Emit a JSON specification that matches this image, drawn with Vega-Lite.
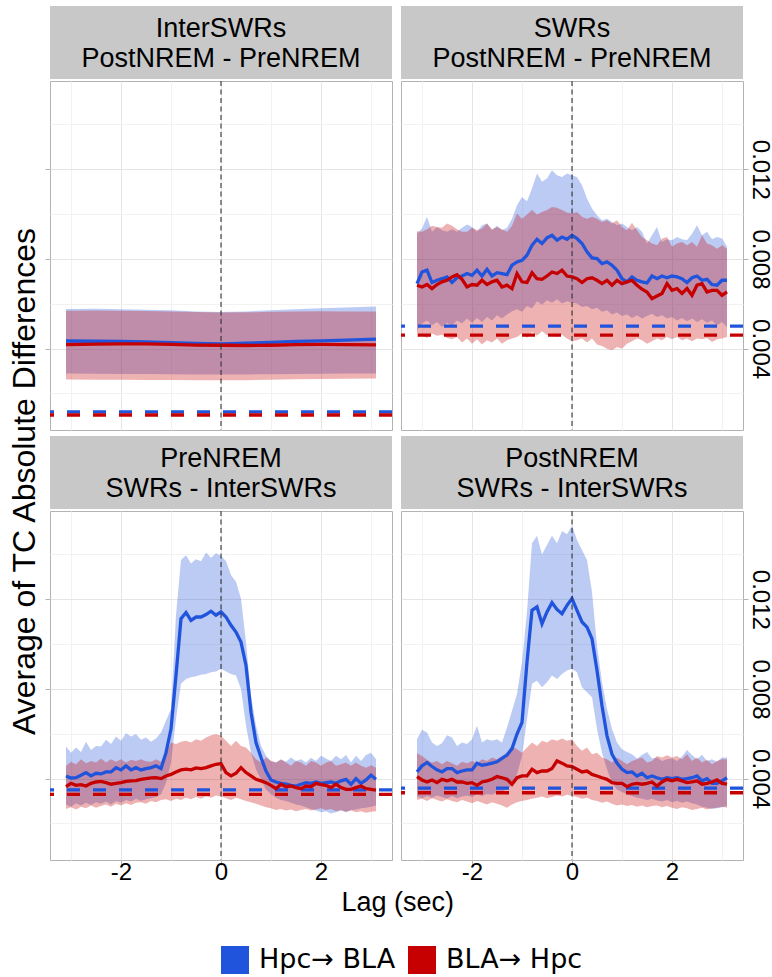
{
"$schema": "https://vega.github.io/schema/vega-lite/v6.json",
"padding": {"left": 8, "top": 6, "right": 1, "bottom": 1},
"config": {
 "font": "Liberation Sans",
 "view": {"stroke": "#b3b3b3", "strokeWidth": 1},
 "axis": {"labelColor": "black", "labelFontSize": 24, "tickColor": "#b3b3b3", "tickSize": 5, "gridWidth": 1, "domain": false, "labelFont": "Liberation Sans"},
 "title": {"fontWeight": "normal", "color": "black", "font": "Liberation Sans"}
},
"title": {"text": "Average of TC Absolute Differences", "orient": "left", "anchor": "middle", "fontSize": 32, "offset": 2, "dx": 8.5},
"datasets": {
 "thr": [
  {"p":"TL","d":"Hpc→ BLA","v":0.00118},{"p":"TL","d":"BLA→ Hpc","v":0.00104},
  {"p":"TR","d":"Hpc→ BLA","v":0.005},{"p":"TR","d":"BLA→ Hpc","v":0.0046},
  {"p":"BL","d":"Hpc→ BLA","v":0.0035},{"p":"BL","d":"BLA→ Hpc","v":0.0033},
  {"p":"BR","d":"Hpc→ BLA","v":0.00358},{"p":"BR","d":"BLA→ Hpc","v":0.00337}
 ],
 "TL_H": [
  {"t":-3.1,"m":0.00434,"lo":0.00289,"hi":0.00577},{"t":-2.5,"m":0.00433,"lo":0.00288,"hi":0.00578},{"t":-2,"m":0.00432,"lo":0.00287,"hi":0.00576},{"t":-1.5,"m":0.0043,"lo":0.00287,"hi":0.00574},{"t":-1,"m":0.00427,"lo":0.00286,"hi":0.00571},{"t":-0.5,"m":0.00423,"lo":0.00285,"hi":0.00566},{"t":0,"m":0.00421,"lo":0.00285,"hi":0.00563},{"t":0.5,"m":0.00424,"lo":0.00285,"hi":0.00566},{"t":1,"m":0.00428,"lo":0.00286,"hi":0.00571},{"t":1.5,"m":0.00432,"lo":0.00287,"hi":0.00576},{"t":2,"m":0.00435,"lo":0.00288,"hi":0.0058},{"t":2.5,"m":0.00438,"lo":0.00289,"hi":0.00584},{"t":3.1,"m":0.00442,"lo":0.00289,"hi":0.00588}
 ],
 "TL_B": [
  {"t":-3.1,"m":0.00418,"lo":0.00262,"hi":0.00569},{"t":-2.5,"m":0.0042,"lo":0.00261,"hi":0.0057},{"t":-2,"m":0.00421,"lo":0.00261,"hi":0.00569},{"t":-1.5,"m":0.00421,"lo":0.0026,"hi":0.00568},{"t":-1,"m":0.00419,"lo":0.0026,"hi":0.00566},{"t":-0.5,"m":0.00416,"lo":0.00259,"hi":0.00563},{"t":0,"m":0.00415,"lo":0.00259,"hi":0.00561},{"t":0.5,"m":0.00414,"lo":0.00259,"hi":0.00562},{"t":1,"m":0.00415,"lo":0.00261,"hi":0.00564},{"t":1.5,"m":0.00418,"lo":0.00263,"hi":0.00566},{"t":2,"m":0.00419,"lo":0.00264,"hi":0.00567},{"t":2.5,"m":0.00418,"lo":0.00266,"hi":0.00566},{"t":3.1,"m":0.00417,"lo":0.00267,"hi":0.00566}
 ],
 "TR_H": [
  {"t":-3.1,"m":0.0069,"lo":0.00482,"hi":0.00913},{"t":-3,"m":0.00742,"lo":0.00512,"hi":0.00936},{"t":-2.9,"m":0.0075,"lo":0.00526,"hi":0.00988},{"t":-2.8,"m":0.00695,"lo":0.00504,"hi":0.00921},{"t":-2.7,"m":0.00705,"lo":0.00519,"hi":0.00943},{"t":-2.6,"m":0.00712,"lo":0.00497,"hi":0.00928},{"t":-2.5,"m":0.0072,"lo":0.00516,"hi":0.00921},{"t":-2.4,"m":0.00695,"lo":0.00504,"hi":0.00933},{"t":-2.3,"m":0.00716,"lo":0.00526,"hi":0.00921},{"t":-2.2,"m":0.00724,"lo":0.00512,"hi":0.00939},{"t":-2.1,"m":0.00735,"lo":0.00534,"hi":0.00954},{"t":-2,"m":0.00727,"lo":0.00516,"hi":0.00943},{"t":-1.9,"m":0.0075,"lo":0.00537,"hi":0.00921},{"t":-1.8,"m":0.00724,"lo":0.00519,"hi":0.00951},{"t":-1.7,"m":0.00754,"lo":0.00541,"hi":0.00958},{"t":-1.6,"m":0.00724,"lo":0.00526,"hi":0.00928},{"t":-1.5,"m":0.00739,"lo":0.00549,"hi":0.00948},{"t":-1.4,"m":0.00735,"lo":0.00534,"hi":0.00928},{"t":-1.3,"m":0.0073,"lo":0.00552,"hi":0.00939},{"t":-1.2,"m":0.00772,"lo":0.00567,"hi":0.0098},{"t":-1.1,"m":0.00787,"lo":0.00576,"hi":0.0104},{"t":-1,"m":0.00794,"lo":0.00564,"hi":0.01077},{"t":-0.9,"m":0.00817,"lo":0.0059,"hi":0.01058},{"t":-0.8,"m":0.00861,"lo":0.00579,"hi":0.01114},{"t":-0.7,"m":0.00888,"lo":0.00611,"hi":0.01181},{"t":-0.6,"m":0.00869,"lo":0.00596,"hi":0.01144},{"t":-0.5,"m":0.00894,"lo":0.00616,"hi":0.01159},{"t":-0.4,"m":0.00906,"lo":0.00605,"hi":0.01196},{"t":-0.3,"m":0.00884,"lo":0.0062,"hi":0.01174},{"t":-0.2,"m":0.00898,"lo":0.00601,"hi":0.01166},{"t":-0.1,"m":0.00888,"lo":0.00611,"hi":0.01181},{"t":0,"m":0.00906,"lo":0.00605,"hi":0.01174},{"t":0.1,"m":0.00891,"lo":0.00601,"hi":0.01166},{"t":0.2,"m":0.00869,"lo":0.00586,"hi":0.01129},{"t":0.3,"m":0.00832,"lo":0.0059,"hi":0.0107},{"t":0.4,"m":0.00805,"lo":0.00576,"hi":0.01025},{"t":0.5,"m":0.00802,"lo":0.00582,"hi":0.00995},{"t":0.6,"m":0.00779,"lo":0.00564,"hi":0.00973},{"t":0.7,"m":0.00787,"lo":0.00571,"hi":0.0098},{"t":0.8,"m":0.00772,"lo":0.00552,"hi":0.00965},{"t":0.9,"m":0.0075,"lo":0.00561,"hi":0.00951},{"t":1,"m":0.00712,"lo":0.00546,"hi":0.00958},{"t":1.1,"m":0.00698,"lo":0.00552,"hi":0.00943},{"t":1.2,"m":0.0072,"lo":0.00537,"hi":0.00928},{"t":1.3,"m":0.00705,"lo":0.00549,"hi":0.00943},{"t":1.4,"m":0.00698,"lo":0.00534,"hi":0.00921},{"t":1.5,"m":0.00693,"lo":0.00546,"hi":0.00869},{"t":1.6,"m":0.00724,"lo":0.00556,"hi":0.00906},{"t":1.7,"m":0.00712,"lo":0.00541,"hi":0.00943},{"t":1.8,"m":0.00724,"lo":0.00549,"hi":0.00876},{"t":1.9,"m":0.00716,"lo":0.00534,"hi":0.00888},{"t":2,"m":0.00724,"lo":0.00541,"hi":0.00884},{"t":2.1,"m":0.0072,"lo":0.00526,"hi":0.00898},{"t":2.2,"m":0.00712,"lo":0.00537,"hi":0.00888},{"t":2.3,"m":0.00695,"lo":0.00522,"hi":0.00884},{"t":2.4,"m":0.00716,"lo":0.00534,"hi":0.00913},{"t":2.5,"m":0.00724,"lo":0.00519,"hi":0.00951},{"t":2.6,"m":0.00705,"lo":0.00531,"hi":0.00906},{"t":2.7,"m":0.00709,"lo":0.00516,"hi":0.00921},{"t":2.8,"m":0.00686,"lo":0.00526,"hi":0.00888},{"t":2.9,"m":0.00683,"lo":0.00504,"hi":0.00898},{"t":3,"m":0.00705,"lo":0.00519,"hi":0.00891},{"t":3.1,"m":0.00705,"lo":0.00497,"hi":0.00854}
 ],
 "TR_B": [
  {"t":-3.1,"m":0.00683,"lo":0.00452,"hi":0.00924},{"t":-3,"m":0.00675,"lo":0.0046,"hi":0.00921},{"t":-2.9,"m":0.00686,"lo":0.00448,"hi":0.00933},{"t":-2.8,"m":0.00668,"lo":0.00467,"hi":0.00948},{"t":-2.7,"m":0.00686,"lo":0.00457,"hi":0.00943},{"t":-2.6,"m":0.00698,"lo":0.00462,"hi":0.00939},{"t":-2.5,"m":0.00705,"lo":0.00448,"hi":0.00958},{"t":-2.4,"m":0.0072,"lo":0.00442,"hi":0.00948},{"t":-2.3,"m":0.0073,"lo":0.00452,"hi":0.00933},{"t":-2.2,"m":0.00709,"lo":0.00427,"hi":0.00921},{"t":-2.1,"m":0.00675,"lo":0.00445,"hi":0.00921},{"t":-2,"m":0.00686,"lo":0.00422,"hi":0.00939},{"t":-1.9,"m":0.00683,"lo":0.00442,"hi":0.00928},{"t":-1.8,"m":0.00705,"lo":0.00418,"hi":0.00936},{"t":-1.7,"m":0.00686,"lo":0.00437,"hi":0.00958},{"t":-1.6,"m":0.00698,"lo":0.00427,"hi":0.00933},{"t":-1.5,"m":0.00705,"lo":0.00445,"hi":0.00943},{"t":-1.4,"m":0.00675,"lo":0.00422,"hi":0.00933},{"t":-1.3,"m":0.00683,"lo":0.00437,"hi":0.00921},{"t":-1.2,"m":0.00668,"lo":0.00445,"hi":0.00948},{"t":-1.1,"m":0.00735,"lo":0.00452,"hi":0.01003},{"t":-1,"m":0.00698,"lo":0.00467,"hi":0.0098},{"t":-0.9,"m":0.00695,"lo":0.00448,"hi":0.00998},{"t":-0.8,"m":0.00739,"lo":0.00474,"hi":0.01018},{"t":-0.7,"m":0.00712,"lo":0.00457,"hi":0.00998},{"t":-0.6,"m":0.00709,"lo":0.00477,"hi":0.0101},{"t":-0.5,"m":0.00724,"lo":0.0046,"hi":0.01018},{"t":-0.4,"m":0.00742,"lo":0.00467,"hi":0.01032},{"t":-0.3,"m":0.00735,"lo":0.00452,"hi":0.01028},{"t":-0.2,"m":0.0075,"lo":0.00462,"hi":0.01018},{"t":-0.1,"m":0.00724,"lo":0.00445,"hi":0.01007},{"t":0,"m":0.0072,"lo":0.00433,"hi":0.01003},{"t":0.1,"m":0.00712,"lo":0.00437,"hi":0.0101},{"t":0.2,"m":0.00695,"lo":0.00445,"hi":0.00988},{"t":0.3,"m":0.00712,"lo":0.00427,"hi":0.0098},{"t":0.4,"m":0.00716,"lo":0.00445,"hi":0.00988},{"t":0.5,"m":0.00705,"lo":0.00418,"hi":0.0098},{"t":0.6,"m":0.0069,"lo":0.00412,"hi":0.00965},{"t":0.7,"m":0.00705,"lo":0.004,"hi":0.00973},{"t":0.8,"m":0.00683,"lo":0.00393,"hi":0.00958},{"t":0.9,"m":0.00705,"lo":0.00407,"hi":0.00973},{"t":1,"m":0.0069,"lo":0.004,"hi":0.00943},{"t":1.1,"m":0.00698,"lo":0.00422,"hi":0.00928},{"t":1.2,"m":0.00705,"lo":0.00433,"hi":0.00962},{"t":1.3,"m":0.00683,"lo":0.00445,"hi":0.00928},{"t":1.4,"m":0.00665,"lo":0.00437,"hi":0.00898},{"t":1.5,"m":0.00653,"lo":0.00422,"hi":0.00884},{"t":1.6,"m":0.00623,"lo":0.00433,"hi":0.00869},{"t":1.7,"m":0.00635,"lo":0.00445,"hi":0.00861},{"t":1.8,"m":0.00646,"lo":0.00437,"hi":0.00891},{"t":1.9,"m":0.0069,"lo":0.00452,"hi":0.00898},{"t":2,"m":0.0066,"lo":0.00442,"hi":0.00854},{"t":2.1,"m":0.00668,"lo":0.00452,"hi":0.00869},{"t":2.2,"m":0.00646,"lo":0.00437,"hi":0.00876},{"t":2.3,"m":0.00668,"lo":0.00445,"hi":0.00861},{"t":2.4,"m":0.00638,"lo":0.00433,"hi":0.00876},{"t":2.5,"m":0.00683,"lo":0.00445,"hi":0.00854},{"t":2.6,"m":0.0069,"lo":0.00442,"hi":0.00906},{"t":2.7,"m":0.00653,"lo":0.00448,"hi":0.00869},{"t":2.8,"m":0.0066,"lo":0.0043,"hi":0.00861},{"t":2.9,"m":0.0066,"lo":0.00442,"hi":0.00846},{"t":3,"m":0.00638,"lo":0.00445,"hi":0.00861},{"t":3.1,"m":0.00653,"lo":0.00452,"hi":0.00846}
 ],
 "BL_H": [
  {"t":-3.1,"m":0.00412,"lo":0.00285,"hi":0.00543},{"t":-3,"m":0.00403,"lo":0.00275,"hi":0.00516},{"t":-2.9,"m":0.00404,"lo":0.0029,"hi":0.00539},{"t":-2.8,"m":0.00415,"lo":0.0028,"hi":0.00519},{"t":-2.7,"m":0.00427,"lo":0.00292,"hi":0.00564},{"t":-2.6,"m":0.00412,"lo":0.00282,"hi":0.00528},{"t":-2.5,"m":0.00424,"lo":0.00295,"hi":0.00546},{"t":-2.4,"m":0.00421,"lo":0.00288,"hi":0.00543},{"t":-2.3,"m":0.0043,"lo":0.00298,"hi":0.00573},{"t":-2.2,"m":0.0043,"lo":0.00285,"hi":0.00554},{"t":-2.1,"m":0.00449,"lo":0.003,"hi":0.00588},{"t":-2,"m":0.00439,"lo":0.00292,"hi":0.00569},{"t":-1.9,"m":0.00457,"lo":0.00305,"hi":0.00603},{"t":-1.8,"m":0.00439,"lo":0.00298,"hi":0.00588},{"t":-1.7,"m":0.00449,"lo":0.0031,"hi":0.00599},{"t":-1.6,"m":0.00439,"lo":0.003,"hi":0.00573},{"t":-1.5,"m":0.00445,"lo":0.00308,"hi":0.00584},{"t":-1.4,"m":0.00449,"lo":0.00312,"hi":0.00564},{"t":-1.3,"m":0.00457,"lo":0.00318,"hi":0.00579},{"t":-1.2,"m":0.00445,"lo":0.0033,"hi":0.00606},{"t":-1.1,"m":0.00516,"lo":0.0038,"hi":0.00658},{"t":-1,"m":0.00621,"lo":0.00472,"hi":0.00711},{"t":-0.9,"m":0.0086,"lo":0.00666,"hi":0.01129},{"t":-0.8,"m":0.01114,"lo":0.00823,"hi":0.01375},{"t":-0.7,"m":0.01141,"lo":0.00845,"hi":0.01397},{"t":-0.6,"m":0.01106,"lo":0.00852,"hi":0.0136},{"t":-0.5,"m":0.01121,"lo":0.00857,"hi":0.01379},{"t":-0.4,"m":0.01121,"lo":0.00863,"hi":0.0137},{"t":-0.3,"m":0.01132,"lo":0.00867,"hi":0.01409},{"t":-0.2,"m":0.01147,"lo":0.00875,"hi":0.01385},{"t":-0.1,"m":0.01129,"lo":0.00878,"hi":0.01405},{"t":0,"m":0.01144,"lo":0.0089,"hi":0.01394},{"t":0.1,"m":0.01121,"lo":0.00878,"hi":0.0137},{"t":0.2,"m":0.01084,"lo":0.00867,"hi":0.01308},{"t":0.3,"m":0.01054,"lo":0.0086,"hi":0.01278},{"t":0.4,"m":0.01009,"lo":0.008,"hi":0.01203},{"t":0.5,"m":0.00905,"lo":0.00636,"hi":0.01009},{"t":0.6,"m":0.00696,"lo":0.00516,"hi":0.0077},{"t":0.7,"m":0.00561,"lo":0.00442,"hi":0.00636},{"t":0.8,"m":0.00494,"lo":0.00397,"hi":0.00546},{"t":0.9,"m":0.00434,"lo":0.00352,"hi":0.00502},{"t":1,"m":0.00394,"lo":0.0033,"hi":0.00479},{"t":1.1,"m":0.00385,"lo":0.00315,"hi":0.00472},{"t":1.2,"m":0.00379,"lo":0.00305,"hi":0.00484},{"t":1.3,"m":0.00375,"lo":0.003,"hi":0.00475},{"t":1.4,"m":0.0037,"lo":0.00292,"hi":0.00494},{"t":1.5,"m":0.00367,"lo":0.00285,"hi":0.00479},{"t":1.6,"m":0.00375,"lo":0.0028,"hi":0.00487},{"t":1.7,"m":0.00382,"lo":0.00272,"hi":0.00472},{"t":1.8,"m":0.00379,"lo":0.00265,"hi":0.00493},{"t":1.9,"m":0.00385,"lo":0.00258,"hi":0.00479},{"t":2,"m":0.00379,"lo":0.0025,"hi":0.00502},{"t":2.1,"m":0.00382,"lo":0.00255,"hi":0.0049},{"t":2.2,"m":0.00385,"lo":0.00245,"hi":0.00479},{"t":2.3,"m":0.00379,"lo":0.0025,"hi":0.00502},{"t":2.4,"m":0.0039,"lo":0.00258,"hi":0.00487},{"t":2.5,"m":0.00397,"lo":0.0025,"hi":0.00505},{"t":2.6,"m":0.00375,"lo":0.0026,"hi":0.00472},{"t":2.7,"m":0.004,"lo":0.00262,"hi":0.00502},{"t":2.8,"m":0.00379,"lo":0.00268,"hi":0.00479},{"t":2.9,"m":0.00394,"lo":0.0027,"hi":0.00505},{"t":3,"m":0.00415,"lo":0.00275,"hi":0.00516},{"t":3.1,"m":0.00397,"lo":0.0028,"hi":0.00487}
 ],
 "BL_B": [
  {"t":-3.1,"m":0.00364,"lo":0.00265,"hi":0.00457},{"t":-3,"m":0.00379,"lo":0.00272,"hi":0.00475},{"t":-2.9,"m":0.0037,"lo":0.00262,"hi":0.00464},{"t":-2.8,"m":0.00373,"lo":0.00275,"hi":0.00487},{"t":-2.7,"m":0.00367,"lo":0.00268,"hi":0.00469},{"t":-2.6,"m":0.00379,"lo":0.0028,"hi":0.00479},{"t":-2.5,"m":0.00385,"lo":0.0027,"hi":0.00472},{"t":-2.4,"m":0.00388,"lo":0.00278,"hi":0.0049},{"t":-2.3,"m":0.00382,"lo":0.00285,"hi":0.00472},{"t":-2.2,"m":0.00375,"lo":0.00275,"hi":0.00487},{"t":-2.1,"m":0.00379,"lo":0.00288,"hi":0.00475},{"t":-2,"m":0.00382,"lo":0.0028,"hi":0.00487},{"t":-1.9,"m":0.00388,"lo":0.0029,"hi":0.00472},{"t":-1.8,"m":0.0039,"lo":0.00282,"hi":0.00484},{"t":-1.7,"m":0.00391,"lo":0.00292,"hi":0.00479},{"t":-1.6,"m":0.00397,"lo":0.00295,"hi":0.00487},{"t":-1.5,"m":0.004,"lo":0.00288,"hi":0.00478},{"t":-1.4,"m":0.00403,"lo":0.003,"hi":0.00475},{"t":-1.3,"m":0.00404,"lo":0.00295,"hi":0.00487},{"t":-1.2,"m":0.004,"lo":0.00305,"hi":0.00475},{"t":-1.1,"m":0.00412,"lo":0.00308,"hi":0.00509},{"t":-1,"m":0.00419,"lo":0.003,"hi":0.00561},{"t":-0.9,"m":0.0043,"lo":0.0031,"hi":0.00554},{"t":-0.8,"m":0.00439,"lo":0.00305,"hi":0.00564},{"t":-0.7,"m":0.00442,"lo":0.00315,"hi":0.00569},{"t":-0.6,"m":0.00439,"lo":0.00308,"hi":0.00561},{"t":-0.5,"m":0.00448,"lo":0.00318,"hi":0.00576},{"t":-0.4,"m":0.00445,"lo":0.0031,"hi":0.00569},{"t":-0.3,"m":0.00449,"lo":0.0032,"hi":0.00584},{"t":-0.2,"m":0.00457,"lo":0.00315,"hi":0.00594},{"t":-0.1,"m":0.00464,"lo":0.00325,"hi":0.00599},{"t":0,"m":0.00467,"lo":0.0032,"hi":0.00591},{"t":0.1,"m":0.00427,"lo":0.00312,"hi":0.00569},{"t":0.2,"m":0.00412,"lo":0.00305,"hi":0.00546},{"t":0.3,"m":0.00424,"lo":0.00315,"hi":0.00569},{"t":0.4,"m":0.00449,"lo":0.00308,"hi":0.00546},{"t":0.5,"m":0.00427,"lo":0.003,"hi":0.00539},{"t":0.6,"m":0.00412,"lo":0.00295,"hi":0.00516},{"t":0.7,"m":0.00397,"lo":0.00288,"hi":0.00487},{"t":0.8,"m":0.0039,"lo":0.0028,"hi":0.00472},{"t":0.9,"m":0.00382,"lo":0.00272,"hi":0.00494},{"t":1,"m":0.0037,"lo":0.00268,"hi":0.00479},{"t":1.1,"m":0.00355,"lo":0.0026,"hi":0.00472},{"t":1.2,"m":0.00375,"lo":0.00265,"hi":0.00487},{"t":1.3,"m":0.00364,"lo":0.00258,"hi":0.00472},{"t":1.4,"m":0.00367,"lo":0.00262,"hi":0.00457},{"t":1.5,"m":0.0036,"lo":0.00255,"hi":0.00479},{"t":1.6,"m":0.00355,"lo":0.0026,"hi":0.00472},{"t":1.7,"m":0.00367,"lo":0.00265,"hi":0.00457},{"t":1.8,"m":0.00364,"lo":0.00258,"hi":0.00479},{"t":1.9,"m":0.00379,"lo":0.00262,"hi":0.00472},{"t":2,"m":0.00373,"lo":0.00268,"hi":0.00457},{"t":2.1,"m":0.0037,"lo":0.0026,"hi":0.00472},{"t":2.2,"m":0.0036,"lo":0.00265,"hi":0.00479},{"t":2.3,"m":0.00375,"lo":0.00255,"hi":0.00457},{"t":2.4,"m":0.0036,"lo":0.0026,"hi":0.00464},{"t":2.5,"m":0.00352,"lo":0.00252,"hi":0.00472},{"t":2.6,"m":0.00352,"lo":0.00258,"hi":0.00457},{"t":2.7,"m":0.0036,"lo":0.0025,"hi":0.00472},{"t":2.8,"m":0.00367,"lo":0.00255,"hi":0.00457},{"t":2.9,"m":0.00355,"lo":0.00248,"hi":0.00449},{"t":3,"m":0.00352,"lo":0.00252,"hi":0.0046},{"t":3.1,"m":0.00349,"lo":0.00255,"hi":0.00449}
 ],
 "BR_H": [
  {"t":-3.1,"m":0.0043,"lo":0.0032,"hi":0.00576},{"t":-3,"m":0.00457,"lo":0.00312,"hi":0.00618},{"t":-2.9,"m":0.00472,"lo":0.00322,"hi":0.00606},{"t":-2.8,"m":0.00454,"lo":0.00315,"hi":0.00561},{"t":-2.7,"m":0.00439,"lo":0.00325,"hi":0.00546},{"t":-2.6,"m":0.0043,"lo":0.00318,"hi":0.00558},{"t":-2.5,"m":0.00445,"lo":0.0031,"hi":0.00594},{"t":-2.4,"m":0.00445,"lo":0.00322,"hi":0.00584},{"t":-2.3,"m":0.00427,"lo":0.00312,"hi":0.00546},{"t":-2.2,"m":0.00434,"lo":0.0032,"hi":0.00561},{"t":-2.1,"m":0.00439,"lo":0.00325,"hi":0.00554},{"t":-2,"m":0.00439,"lo":0.00318,"hi":0.00576},{"t":-1.9,"m":0.00469,"lo":0.0033,"hi":0.00636},{"t":-1.8,"m":0.0046,"lo":0.00322,"hi":0.00561},{"t":-1.7,"m":0.00464,"lo":0.00332,"hi":0.00576},{"t":-1.6,"m":0.00469,"lo":0.00328,"hi":0.00569},{"t":-1.5,"m":0.00475,"lo":0.00338,"hi":0.00576},{"t":-1.4,"m":0.0049,"lo":0.0034,"hi":0.00561},{"t":-1.3,"m":0.00505,"lo":0.00355,"hi":0.00628},{"t":-1.2,"m":0.00534,"lo":0.0037,"hi":0.00703},{"t":-1.1,"m":0.00599,"lo":0.0042,"hi":0.00778},{"t":-1,"m":0.00651,"lo":0.005,"hi":0.0092},{"t":-0.9,"m":0.0092,"lo":0.00666,"hi":0.01144},{"t":-0.8,"m":0.01151,"lo":0.00823,"hi":0.0145},{"t":-0.7,"m":0.01166,"lo":0.00837,"hi":0.01484},{"t":-0.6,"m":0.01091,"lo":0.00808,"hi":0.014},{"t":-0.5,"m":0.01144,"lo":0.0083,"hi":0.01442},{"t":-0.4,"m":0.01185,"lo":0.0086,"hi":0.01484},{"t":-0.3,"m":0.01155,"lo":0.00845,"hi":0.0145},{"t":-0.2,"m":0.01136,"lo":0.00867,"hi":0.01505},{"t":-0.1,"m":0.01173,"lo":0.00882,"hi":0.0149},{"t":0,"m":0.01203,"lo":0.0089,"hi":0.01529},{"t":0.1,"m":0.01151,"lo":0.00875,"hi":0.01465},{"t":0.2,"m":0.01099,"lo":0.00808,"hi":0.0142},{"t":0.3,"m":0.01076,"lo":0.00785,"hi":0.01375},{"t":0.4,"m":0.01024,"lo":0.00763,"hi":0.01233},{"t":0.5,"m":0.00882,"lo":0.00621,"hi":0.00994},{"t":0.6,"m":0.00725,"lo":0.00516,"hi":0.0083},{"t":0.7,"m":0.00591,"lo":0.00442,"hi":0.00711},{"t":0.8,"m":0.00509,"lo":0.00382,"hi":0.00621},{"t":0.9,"m":0.00469,"lo":0.00352,"hi":0.00561},{"t":1,"m":0.00442,"lo":0.0034,"hi":0.00531},{"t":1.1,"m":0.00427,"lo":0.0033,"hi":0.00519},{"t":1.2,"m":0.0043,"lo":0.00322,"hi":0.00509},{"t":1.3,"m":0.00412,"lo":0.00315,"hi":0.0049},{"t":1.4,"m":0.00424,"lo":0.0031,"hi":0.00505},{"t":1.5,"m":0.00404,"lo":0.00305,"hi":0.00519},{"t":1.6,"m":0.00412,"lo":0.0031,"hi":0.0049},{"t":1.7,"m":0.00404,"lo":0.00302,"hi":0.00494},{"t":1.8,"m":0.00397,"lo":0.00298,"hi":0.00479},{"t":1.9,"m":0.00404,"lo":0.00305,"hi":0.00487},{"t":2,"m":0.004,"lo":0.00295,"hi":0.0049},{"t":2.1,"m":0.00404,"lo":0.003,"hi":0.00479},{"t":2.2,"m":0.00397,"lo":0.00292,"hi":0.00499},{"t":2.3,"m":0.004,"lo":0.00298,"hi":0.00528},{"t":2.4,"m":0.00404,"lo":0.0029,"hi":0.00505},{"t":2.5,"m":0.00412,"lo":0.00285,"hi":0.00487},{"t":2.6,"m":0.0039,"lo":0.00275,"hi":0.00507},{"t":2.7,"m":0.004,"lo":0.0027,"hi":0.00479},{"t":2.8,"m":0.00379,"lo":0.00265,"hi":0.00487},{"t":2.9,"m":0.00379,"lo":0.00268,"hi":0.00475},{"t":3,"m":0.0039,"lo":0.00272,"hi":0.00494},{"t":3.1,"m":0.00404,"lo":0.00278,"hi":0.00494}
 ],
 "BR_B": [
  {"t":-3.1,"m":0.00409,"lo":0.00305,"hi":0.00513},{"t":-3,"m":0.00394,"lo":0.0031,"hi":0.00501},{"t":-2.9,"m":0.00385,"lo":0.003,"hi":0.00484},{"t":-2.8,"m":0.00394,"lo":0.00312,"hi":0.00472},{"t":-2.7,"m":0.00382,"lo":0.00305,"hi":0.00479},{"t":-2.6,"m":0.00397,"lo":0.00298,"hi":0.00464},{"t":-2.5,"m":0.0039,"lo":0.00308,"hi":0.00479},{"t":-2.4,"m":0.00397,"lo":0.003,"hi":0.00469},{"t":-2.3,"m":0.00385,"lo":0.00295,"hi":0.00457},{"t":-2.2,"m":0.00385,"lo":0.00305,"hi":0.00475},{"t":-2.1,"m":0.00379,"lo":0.00298,"hi":0.00469},{"t":-2,"m":0.00382,"lo":0.0029,"hi":0.00479},{"t":-1.9,"m":0.0037,"lo":0.003,"hi":0.00469},{"t":-1.8,"m":0.00385,"lo":0.00292,"hi":0.00487},{"t":-1.7,"m":0.0039,"lo":0.00285,"hi":0.00479},{"t":-1.6,"m":0.00397,"lo":0.00295,"hi":0.00494},{"t":-1.5,"m":0.00409,"lo":0.00288,"hi":0.00487},{"t":-1.4,"m":0.00404,"lo":0.0028,"hi":0.00501},{"t":-1.3,"m":0.00397,"lo":0.0027,"hi":0.00516},{"t":-1.2,"m":0.00375,"lo":0.00285,"hi":0.00546},{"t":-1.1,"m":0.00404,"lo":0.00295,"hi":0.00531},{"t":-1,"m":0.00412,"lo":0.003,"hi":0.00516},{"t":-0.9,"m":0.00412,"lo":0.00305,"hi":0.00539},{"t":-0.8,"m":0.00442,"lo":0.0031,"hi":0.00561},{"t":-0.7,"m":0.00427,"lo":0.00315,"hi":0.00546},{"t":-0.6,"m":0.00434,"lo":0.0032,"hi":0.00569},{"t":-0.5,"m":0.00434,"lo":0.00312,"hi":0.00561},{"t":-0.4,"m":0.00445,"lo":0.00318,"hi":0.00576},{"t":-0.3,"m":0.00479,"lo":0.00325,"hi":0.00569},{"t":-0.2,"m":0.00469,"lo":0.0032,"hi":0.00579},{"t":-0.1,"m":0.00457,"lo":0.00328,"hi":0.00569},{"t":0,"m":0.00454,"lo":0.00322,"hi":0.00576},{"t":0.1,"m":0.00442,"lo":0.00318,"hi":0.00546},{"t":0.2,"m":0.0043,"lo":0.0031,"hi":0.00524},{"t":0.3,"m":0.00434,"lo":0.00315,"hi":0.00539},{"t":0.4,"m":0.00419,"lo":0.00305,"hi":0.00509},{"t":0.5,"m":0.00412,"lo":0.003,"hi":0.00516},{"t":0.6,"m":0.00404,"lo":0.00292,"hi":0.00494},{"t":0.7,"m":0.00397,"lo":0.00298,"hi":0.00487},{"t":0.8,"m":0.00382,"lo":0.00288,"hi":0.00472},{"t":0.9,"m":0.00379,"lo":0.0028,"hi":0.00494},{"t":1,"m":0.00379,"lo":0.00285,"hi":0.00479},{"t":1.1,"m":0.00364,"lo":0.00278,"hi":0.00464},{"t":1.2,"m":0.00375,"lo":0.00282,"hi":0.00479},{"t":1.3,"m":0.00379,"lo":0.00275,"hi":0.00487},{"t":1.4,"m":0.00375,"lo":0.0028,"hi":0.00494},{"t":1.5,"m":0.00379,"lo":0.00272,"hi":0.00472},{"t":1.6,"m":0.00385,"lo":0.00278,"hi":0.00479},{"t":1.7,"m":0.00367,"lo":0.0028,"hi":0.00501},{"t":1.8,"m":0.00385,"lo":0.00272,"hi":0.00494},{"t":1.9,"m":0.00397,"lo":0.00278,"hi":0.00504},{"t":2,"m":0.0039,"lo":0.0027,"hi":0.00494},{"t":2.1,"m":0.00397,"lo":0.00265,"hi":0.00501},{"t":2.2,"m":0.0039,"lo":0.00272,"hi":0.00487},{"t":2.3,"m":0.00382,"lo":0.00268,"hi":0.00509},{"t":2.4,"m":0.00385,"lo":0.0026,"hi":0.00479},{"t":2.5,"m":0.0039,"lo":0.00265,"hi":0.00494},{"t":2.6,"m":0.00375,"lo":0.0027,"hi":0.00472},{"t":2.7,"m":0.00379,"lo":0.00262,"hi":0.00484},{"t":2.8,"m":0.00385,"lo":0.00268,"hi":0.00464},{"t":2.9,"m":0.00394,"lo":0.0027,"hi":0.00479},{"t":3,"m":0.00379,"lo":0.00275,"hi":0.00487},{"t":3.1,"m":0.00375,"lo":0.0027,"hi":0.00487}
 ]
},
"spacing": 4,
"vconcat": [
 {"spacing": 3, "hconcat": [
  {"spacing": 0, "vconcat": [
   {"width": 342, "height": 73, "view": {"fill": "#c8c8c8", "stroke": null}, "data": {"values": [{"label": "InterSWRs\nPostNREM - PreNREM"}]}, "mark": {"type": "text", "lineBreak": "\n", "fontSize": 27, "lineHeight": 30, "baseline": "alphabetic", "dy": -6, "color": "black"}, "encoding": {"text": {"field": "label", "type": "nominal"}}},
   {"width": 342, "height": 349, "layer": [
    {"data": {"name": "TL_H"}, "mark": {"type": "area", "opacity": 0.3}, "encoding": {
      "x": {"field": "t", "type": "quantitative", "scale": {"domain": [-3.42, 3.42], "nice": false}, "axis": {"values": [-3,-2,-1,0,1,2,3], "labels": false, "ticks": false, "title": null, "grid": true, "gridColor": {"condition": {"test": "abs(datum.value) % 2 == 1", "value": "#f2f2f2"}, "value": "#e5e5e5"}}},
      "y": {"field": "lo", "type": "quantitative", "scale": {"domain": [0.00037, 0.01594], "nice": false, "zero": false}, "axis": {"orient": "left", "values": [0.002,0.004,0.006,0.008,0.01,0.012,0.014], "labels": false, "title": null, "grid": true, "gridColor": {"condition": {"test": "round(datum.value*1000) % 4 != 0", "value": "#f2f2f2"}, "value": "#e5e5e5"}, "tickOpacity": {"condition": {"test": "round(datum.value*1000) % 4 != 0", "value": 0}, "value": 1}}},
      "y2": {"field": "hi"},
      "color": {"datum": "Hpc→ BLA", "type": "nominal", "scale": {"domain": ["Hpc→ BLA", "BLA→ Hpc"], "range": ["#2154dc", "#c60000"]}, "legend": {"orient": "none", "legendX": 171, "legendY": 940, "direction": "horizontal", "title": null, "symbolType": "square", "symbolSize": 784, "symbolOpacity": 1, "symbolStrokeWidth": 0, "labelFontSize": 27, "labelOffset": 10, "columnPadding": 12, "labelColor": "black", "labelFont": "DejaVu Sans"}}}},
    {"data": {"name": "TL_B"}, "mark": {"type": "area", "opacity": 0.3}, "encoding": {"x": {"field": "t", "type": "quantitative", "scale": {"domain": [-3.42, 3.42], "nice": false}}, "y": {"field": "lo", "type": "quantitative", "scale": {"domain": [0.00037, 0.01594], "nice": false, "zero": false}}, "y2": {"field": "hi"}, "color": {"datum": "BLA→ Hpc", "type": "nominal", "scale": {"domain": ["Hpc→ BLA", "BLA→ Hpc"], "range": ["#2154dc", "#c60000"]}, "legend": null}}},
    {"data": {"name": "thr"}, "transform": [{"filter": "datum.p == 'TL'"}], "mark": {"type": "rule", "strokeWidth": 3.3, "strokeDash": [13, 13]}, "encoding": {"y": {"field": "v", "type": "quantitative", "scale": {"domain": [0.00037, 0.01594], "nice": false, "zero": false}}, "color": {"field": "d", "type": "nominal", "scale": {"domain": ["Hpc→ BLA", "BLA→ Hpc"], "range": ["#2154dc", "#c60000"]}, "legend": null}}},
    {"data": {"name": "TL_H"}, "mark": {"type": "line", "strokeWidth": 3.3}, "encoding": {"x": {"field": "t", "type": "quantitative", "scale": {"domain": [-3.42, 3.42], "nice": false}}, "y": {"field": "m", "type": "quantitative", "scale": {"domain": [0.00037, 0.01594], "nice": false, "zero": false}}, "color": {"datum": "Hpc→ BLA", "type": "nominal", "scale": {"domain": ["Hpc→ BLA", "BLA→ Hpc"], "range": ["#2154dc", "#c60000"]}, "legend": null}}},
    {"data": {"name": "TL_B"}, "mark": {"type": "line", "strokeWidth": 3.3}, "encoding": {"x": {"field": "t", "type": "quantitative", "scale": {"domain": [-3.42, 3.42], "nice": false}}, "y": {"field": "m", "type": "quantitative", "scale": {"domain": [0.00037, 0.01594], "nice": false, "zero": false}}, "color": {"datum": "BLA→ Hpc", "type": "nominal", "scale": {"domain": ["Hpc→ BLA", "BLA→ Hpc"], "range": ["#2154dc", "#c60000"]}, "legend": null}}},
    {"data": {"values": [{"lag": 0}]}, "mark": {"type": "rule", "color": "#333333", "strokeWidth": 1.1, "strokeDash": [5, 3.5]}, "encoding": {"x": {"field": "lag", "type": "quantitative", "scale": {"domain": [-3.42, 3.42], "nice": false}}}}
   ]}
  ]},
  {"spacing": 0, "vconcat": [
   {"width": 342, "height": 73, "view": {"fill": "#c8c8c8", "stroke": null}, "data": {"values": [{"label": "SWRs\nPostNREM - PreNREM"}]}, "mark": {"type": "text", "lineBreak": "\n", "fontSize": 27, "lineHeight": 30, "baseline": "alphabetic", "dy": -6, "color": "black"}, "encoding": {"text": {"field": "label", "type": "nominal"}}},
   {"width": 342, "height": 349, "layer": [
    {"data": {"name": "TR_H"}, "mark": {"type": "area", "opacity": 0.3}, "encoding": {
      "x": {"field": "t", "type": "quantitative", "scale": {"domain": [-3.42, 3.42], "nice": false}, "axis": {"values": [-3,-2,-1,0,1,2,3], "labels": false, "ticks": false, "title": null, "grid": true, "gridColor": {"condition": {"test": "abs(datum.value) % 2 == 1", "value": "#f2f2f2"}, "value": "#e5e5e5"}}},
      "y": {"field": "lo", "type": "quantitative", "scale": {"domain": [0.00037, 0.01594], "nice": false, "zero": false}, "axis": {"orient": "right", "values": [0.002,0.004,0.006,0.008,0.01,0.012,0.014], "labelExpr": "round(datum.value*1000) % 4 == 0 ? format(datum.value, '.3f') : ''", "labelAngle": 90, "labelPadding": -1, "labelOverlap": false, "labelFlush": false, "title": null, "grid": true, "gridColor": {"condition": {"test": "round(datum.value*1000) % 4 != 0", "value": "#f2f2f2"}, "value": "#e5e5e5"}, "tickOpacity": {"condition": {"test": "round(datum.value*1000) % 4 != 0", "value": 0}, "value": 1}}},
      "y2": {"field": "hi"},
      "color": {"datum": "Hpc→ BLA", "type": "nominal", "scale": {"domain": ["Hpc→ BLA", "BLA→ Hpc"], "range": ["#2154dc", "#c60000"]}, "legend": null}}},
    {"data": {"name": "TR_B"}, "mark": {"type": "area", "opacity": 0.3}, "encoding": {"x": {"field": "t", "type": "quantitative", "scale": {"domain": [-3.42, 3.42], "nice": false}}, "y": {"field": "lo", "type": "quantitative", "scale": {"domain": [0.00037, 0.01594], "nice": false, "zero": false}}, "y2": {"field": "hi"}, "color": {"datum": "BLA→ Hpc", "type": "nominal", "scale": {"domain": ["Hpc→ BLA", "BLA→ Hpc"], "range": ["#2154dc", "#c60000"]}, "legend": null}}},
    {"data": {"name": "thr"}, "transform": [{"filter": "datum.p == 'TR'"}], "mark": {"type": "rule", "strokeWidth": 3.3, "strokeDash": [13, 13]}, "encoding": {"y": {"field": "v", "type": "quantitative", "scale": {"domain": [0.00037, 0.01594], "nice": false, "zero": false}}, "color": {"field": "d", "type": "nominal", "scale": {"domain": ["Hpc→ BLA", "BLA→ Hpc"], "range": ["#2154dc", "#c60000"]}, "legend": null}}},
    {"data": {"name": "TR_H"}, "mark": {"type": "line", "strokeWidth": 3.3}, "encoding": {"x": {"field": "t", "type": "quantitative", "scale": {"domain": [-3.42, 3.42], "nice": false}}, "y": {"field": "m", "type": "quantitative", "scale": {"domain": [0.00037, 0.01594], "nice": false, "zero": false}}, "color": {"datum": "Hpc→ BLA", "type": "nominal", "scale": {"domain": ["Hpc→ BLA", "BLA→ Hpc"], "range": ["#2154dc", "#c60000"]}, "legend": null}}},
    {"data": {"name": "TR_B"}, "mark": {"type": "line", "strokeWidth": 3.3}, "encoding": {"x": {"field": "t", "type": "quantitative", "scale": {"domain": [-3.42, 3.42], "nice": false}}, "y": {"field": "m", "type": "quantitative", "scale": {"domain": [0.00037, 0.01594], "nice": false, "zero": false}}, "color": {"datum": "BLA→ Hpc", "type": "nominal", "scale": {"domain": ["Hpc→ BLA", "BLA→ Hpc"], "range": ["#2154dc", "#c60000"]}, "legend": null}}},
    {"data": {"values": [{"lag": 0}]}, "mark": {"type": "rule", "color": "#333333", "strokeWidth": 1.1, "strokeDash": [5, 3.5]}, "encoding": {"x": {"field": "lag", "type": "quantitative", "scale": {"domain": [-3.42, 3.42], "nice": false}}}}
   ]}
  ]}
 ]},
 {"spacing": 3, "title": {"text": "Lag (sec)", "orient": "bottom", "anchor": "middle", "fontSize": 27, "offset": 5, "dx": -10}, "hconcat": [
  {"spacing": 0, "vconcat": [
   {"width": 342, "height": 73, "view": {"fill": "#c8c8c8", "stroke": null}, "data": {"values": [{"label": "PreNREM\nSWRs - InterSWRs"}]}, "mark": {"type": "text", "lineBreak": "\n", "fontSize": 27, "lineHeight": 30, "baseline": "alphabetic", "dy": -6, "color": "black"}, "encoding": {"text": {"field": "label", "type": "nominal"}}},
   {"width": 342, "height": 349, "layer": [
    {"data": {"name": "BL_H"}, "mark": {"type": "area", "opacity": 0.3}, "encoding": {
      "x": {"field": "t", "type": "quantitative", "scale": {"domain": [-3.42, 3.42], "nice": false}, "axis": {"values": [-3,-2,-1,0,1,2,3], "labelExpr": "abs(datum.value) % 2 == 0 ? toString(datum.value) : ''", "labelPadding": -5, "labelOverlap": false, "labelFlush": false, "title": null, "grid": true, "gridColor": {"condition": {"test": "abs(datum.value) % 2 == 1", "value": "#f2f2f2"}, "value": "#e5e5e5"}, "tickOpacity": {"condition": {"test": "abs(datum.value) % 2 == 1", "value": 0}, "value": 1}}},
      "y": {"field": "lo", "type": "quantitative", "scale": {"domain": [0.00037, 0.01594], "nice": false, "zero": false}, "axis": {"orient": "left", "values": [0.002,0.004,0.006,0.008,0.01,0.012,0.014], "labels": false, "title": null, "grid": true, "gridColor": {"condition": {"test": "round(datum.value*1000) % 4 != 0", "value": "#f2f2f2"}, "value": "#e5e5e5"}, "tickOpacity": {"condition": {"test": "round(datum.value*1000) % 4 != 0", "value": 0}, "value": 1}}},
      "y2": {"field": "hi"},
      "color": {"datum": "Hpc→ BLA", "type": "nominal", "scale": {"domain": ["Hpc→ BLA", "BLA→ Hpc"], "range": ["#2154dc", "#c60000"]}, "legend": null}}},
    {"data": {"name": "BL_B"}, "mark": {"type": "area", "opacity": 0.3}, "encoding": {"x": {"field": "t", "type": "quantitative", "scale": {"domain": [-3.42, 3.42], "nice": false}}, "y": {"field": "lo", "type": "quantitative", "scale": {"domain": [0.00037, 0.01594], "nice": false, "zero": false}}, "y2": {"field": "hi"}, "color": {"datum": "BLA→ Hpc", "type": "nominal", "scale": {"domain": ["Hpc→ BLA", "BLA→ Hpc"], "range": ["#2154dc", "#c60000"]}, "legend": null}}},
    {"data": {"name": "thr"}, "transform": [{"filter": "datum.p == 'BL'"}], "mark": {"type": "rule", "strokeWidth": 3.3, "strokeDash": [13, 13]}, "encoding": {"y": {"field": "v", "type": "quantitative", "scale": {"domain": [0.00037, 0.01594], "nice": false, "zero": false}}, "color": {"field": "d", "type": "nominal", "scale": {"domain": ["Hpc→ BLA", "BLA→ Hpc"], "range": ["#2154dc", "#c60000"]}, "legend": null}}},
    {"data": {"name": "BL_H"}, "mark": {"type": "line", "strokeWidth": 3.3}, "encoding": {"x": {"field": "t", "type": "quantitative", "scale": {"domain": [-3.42, 3.42], "nice": false}}, "y": {"field": "m", "type": "quantitative", "scale": {"domain": [0.00037, 0.01594], "nice": false, "zero": false}}, "color": {"datum": "Hpc→ BLA", "type": "nominal", "scale": {"domain": ["Hpc→ BLA", "BLA→ Hpc"], "range": ["#2154dc", "#c60000"]}, "legend": null}}},
    {"data": {"name": "BL_B"}, "mark": {"type": "line", "strokeWidth": 3.3}, "encoding": {"x": {"field": "t", "type": "quantitative", "scale": {"domain": [-3.42, 3.42], "nice": false}}, "y": {"field": "m", "type": "quantitative", "scale": {"domain": [0.00037, 0.01594], "nice": false, "zero": false}}, "color": {"datum": "BLA→ Hpc", "type": "nominal", "scale": {"domain": ["Hpc→ BLA", "BLA→ Hpc"], "range": ["#2154dc", "#c60000"]}, "legend": null}}},
    {"data": {"values": [{"lag": 0}]}, "mark": {"type": "rule", "color": "#333333", "strokeWidth": 1.1, "strokeDash": [5, 3.5]}, "encoding": {"x": {"field": "lag", "type": "quantitative", "scale": {"domain": [-3.42, 3.42], "nice": false}}}}
   ]}
  ]},
  {"spacing": 0, "vconcat": [
   {"width": 342, "height": 73, "view": {"fill": "#c8c8c8", "stroke": null}, "data": {"values": [{"label": "PostNREM\nSWRs - InterSWRs"}]}, "mark": {"type": "text", "lineBreak": "\n", "fontSize": 27, "lineHeight": 30, "baseline": "alphabetic", "dy": -6, "color": "black"}, "encoding": {"text": {"field": "label", "type": "nominal"}}},
   {"width": 342, "height": 349, "layer": [
    {"data": {"name": "BR_H"}, "mark": {"type": "area", "opacity": 0.3}, "encoding": {
      "x": {"field": "t", "type": "quantitative", "scale": {"domain": [-3.42, 3.42], "nice": false}, "axis": {"values": [-3,-2,-1,0,1,2,3], "labelExpr": "abs(datum.value) % 2 == 0 ? toString(datum.value) : ''", "labelPadding": -5, "labelOverlap": false, "labelFlush": false, "title": null, "grid": true, "gridColor": {"condition": {"test": "abs(datum.value) % 2 == 1", "value": "#f2f2f2"}, "value": "#e5e5e5"}, "tickOpacity": {"condition": {"test": "abs(datum.value) % 2 == 1", "value": 0}, "value": 1}}},
      "y": {"field": "lo", "type": "quantitative", "scale": {"domain": [0.00037, 0.01594], "nice": false, "zero": false}, "axis": {"orient": "right", "values": [0.002,0.004,0.006,0.008,0.01,0.012,0.014], "labelExpr": "round(datum.value*1000) % 4 == 0 ? format(datum.value, '.3f') : ''", "labelAngle": 90, "labelPadding": -1, "labelOverlap": false, "labelFlush": false, "title": null, "grid": true, "gridColor": {"condition": {"test": "round(datum.value*1000) % 4 != 0", "value": "#f2f2f2"}, "value": "#e5e5e5"}, "tickOpacity": {"condition": {"test": "round(datum.value*1000) % 4 != 0", "value": 0}, "value": 1}}},
      "y2": {"field": "hi"},
      "color": {"datum": "Hpc→ BLA", "type": "nominal", "scale": {"domain": ["Hpc→ BLA", "BLA→ Hpc"], "range": ["#2154dc", "#c60000"]}, "legend": null}}},
    {"data": {"name": "BR_B"}, "mark": {"type": "area", "opacity": 0.3}, "encoding": {"x": {"field": "t", "type": "quantitative", "scale": {"domain": [-3.42, 3.42], "nice": false}}, "y": {"field": "lo", "type": "quantitative", "scale": {"domain": [0.00037, 0.01594], "nice": false, "zero": false}}, "y2": {"field": "hi"}, "color": {"datum": "BLA→ Hpc", "type": "nominal", "scale": {"domain": ["Hpc→ BLA", "BLA→ Hpc"], "range": ["#2154dc", "#c60000"]}, "legend": null}}},
    {"data": {"name": "thr"}, "transform": [{"filter": "datum.p == 'BR'"}], "mark": {"type": "rule", "strokeWidth": 3.3, "strokeDash": [13, 13]}, "encoding": {"y": {"field": "v", "type": "quantitative", "scale": {"domain": [0.00037, 0.01594], "nice": false, "zero": false}}, "color": {"field": "d", "type": "nominal", "scale": {"domain": ["Hpc→ BLA", "BLA→ Hpc"], "range": ["#2154dc", "#c60000"]}, "legend": null}}},
    {"data": {"name": "BR_H"}, "mark": {"type": "line", "strokeWidth": 3.3}, "encoding": {"x": {"field": "t", "type": "quantitative", "scale": {"domain": [-3.42, 3.42], "nice": false}}, "y": {"field": "m", "type": "quantitative", "scale": {"domain": [0.00037, 0.01594], "nice": false, "zero": false}}, "color": {"datum": "Hpc→ BLA", "type": "nominal", "scale": {"domain": ["Hpc→ BLA", "BLA→ Hpc"], "range": ["#2154dc", "#c60000"]}, "legend": null}}},
    {"data": {"name": "BR_B"}, "mark": {"type": "line", "strokeWidth": 3.3}, "encoding": {"x": {"field": "t", "type": "quantitative", "scale": {"domain": [-3.42, 3.42], "nice": false}}, "y": {"field": "m", "type": "quantitative", "scale": {"domain": [0.00037, 0.01594], "nice": false, "zero": false}}, "color": {"datum": "BLA→ Hpc", "type": "nominal", "scale": {"domain": ["Hpc→ BLA", "BLA→ Hpc"], "range": ["#2154dc", "#c60000"]}, "legend": null}}},
    {"data": {"values": [{"lag": 0}]}, "mark": {"type": "rule", "color": "#333333", "strokeWidth": 1.1, "strokeDash": [5, 3.5]}, "encoding": {"x": {"field": "lag", "type": "quantitative", "scale": {"domain": [-3.42, 3.42], "nice": false}}}}
   ]}
  ]}
 ]}
]
}
